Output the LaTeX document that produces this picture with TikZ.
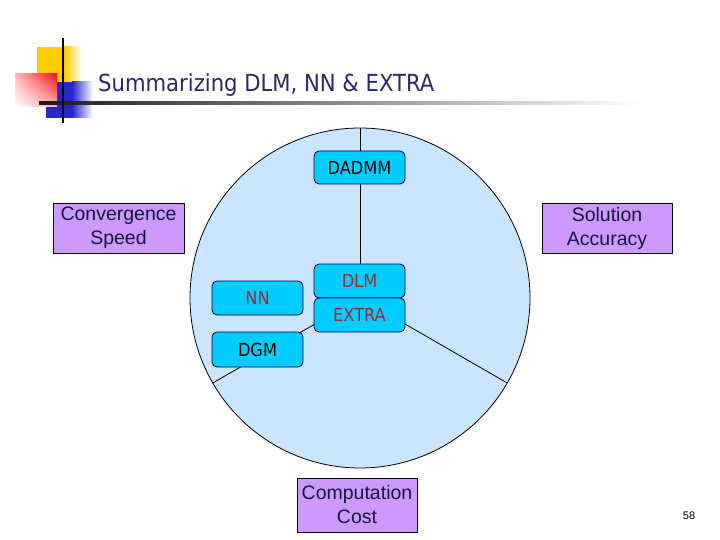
\documentclass[tikz,border=0pt]{standalone}
\usepackage{fontspec}
\setmainfont{Liberation Sans}
\newfontfamily\tah[FakeStretch=0.9]{DejaVu Sans}
\usetikzlibrary{shadings}
\definecolor{circfill}{RGB}{204,229,255}
\definecolor{cyanbox}{RGB}{0,204,255}
\definecolor{purp}{RGB}{204,153,255}
\definecolor{redtxt}{RGB}{160,40,50}
\definecolor{titlec}{RGB}{40,40,110}
\definecolor{navytxt}{RGB}{20,20,60}
\definecolor{yellowc}{RGB}{255,204,0}
\definecolor{redc}{RGB}{240,20,20}
\definecolor{bluec}{RGB}{40,40,200}
\begin{document}
\begin{tikzpicture}[x=1pt,y=-1pt,
  conn/.style={draw=black, line width=0.8pt},
  cbox/.style={draw=black!70!blue, fill=cyanbox, rounded corners=5pt, minimum width=91pt, minimum height=34pt, inner sep=0pt, line width=0.8pt, font=\tah\fontsize{18}{20}\selectfont},
  pbox/.style={draw=black, fill=purp, inner sep=0pt, line width=0.8pt, align=center, text=navytxt, font=\fontsize{19.5}{24}\selectfont}]
\useasboundingbox (0,0) rectangle (720,540);
% logo
\fill[yellowc] (37,47) rectangle (64,82);
\shade[left color=yellowc, right color=white] (64,47) rectangle (82,82);
\fill[bluec] (46,82) rectangle (72,118);
\shade[left color=bluec, right color=white] (72,82) rectangle (93,118);
\begin{scope}[yscale=-1]
\shade[upper right=redc, upper left=red!25, lower right=red!30, lower left=white] (15,-74) rectangle (57,-107);
\end{scope}
\shade[left color=black!90, right color=white] (39,102) rectangle (640,104.5);
\draw[line width=2pt] (63,38) -- (63,123);
% title
\node[anchor=base west, inner sep=0pt, text=titlec, font=\tah\fontsize{23.5}{28}\selectfont] (title) at (98,91.5) {Summarizing DLM, NN \& EXTRA};
% circle
\node[circle, draw=black, fill=circfill, minimum size=340pt, inner sep=0pt, line width=0.8pt] (circ) at (360,298) {};
\draw[conn] (circ.center) -- (circ.90);
\draw[conn] (circ.center) -- (circ.210);
\draw[conn] (circ.center) -- (circ.330);
% cyan boxes
\node[cbox, minimum height=33pt] (dadmm) at (359.5,167.5) {DADMM};
\node[cbox, text=redtxt] (dlm) at (359.5,281) {DLM};
\node[cbox, text=redtxt] (extra) at (359.5,315) {EXTRA};
\node[cbox, text=redtxt] (nn) at (257.5,298) {NN};
\node[cbox, minimum height=35pt] (dgm) at (257.5,349.5) {DGM};
% purple boxes
\node[pbox, minimum width=131pt, minimum height=50pt] (conv) at (118.5,228) {Convergence\\Speed};
\node[pbox, minimum width=130pt, minimum height=50pt] (sol) at (607,228) {Solution\\Accuracy};
\node[pbox, minimum width=120pt, minimum height=54pt] (cost) at (357,505) {Computation\\Cost};
% slide number
\node[inner sep=0pt, font=\fontsize{11}{13}\selectfont] (num) at (689,516) {58};
\end{tikzpicture}
\end{document}
